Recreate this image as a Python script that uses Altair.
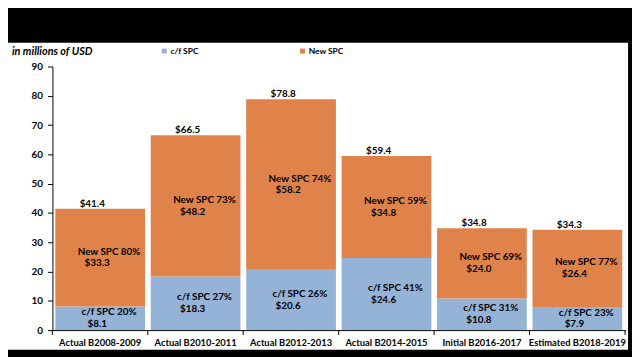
import altair as alt
import pandas as pd

categories = ["Actual B2008-2009", "Actual B2010-2011", "Actual B2012-2013",
              "Actual B2014-2015", "Initial B2016-2017", "Estimated B2018-2019"]
series = ["c/f SPC", "New SPC"]
cf_values = [8.1, 18.3, 20.6, 24.6, 10.8, 7.9]
new_values = [33.3, 48.2, 58.2, 34.8, 24.0, 26.4]
cf_pct = [20, 27, 26, 41, 31, 23]
new_pct = [80, 73, 74, 59, 69, 77]
colors = ["#95B3D7", "#E0834A"]
y_ticks = [0, 10, 20, 30, 40, 50, 60, 70, 80, 90]
unit_title = "in millions of USD"

rows = []
for i, c in enumerate(categories):
    rows.append({"category": c, "series": series[0], "value": cf_values[i], "pct": cf_pct[i], "order": 0})
    rows.append({"category": c, "series": series[1], "value": new_values[i], "pct": new_pct[i], "order": 1})
df = pd.DataFrame(rows)

FONT = "Lato"
W, H = 580, 267

xscale = alt.Scale(paddingInner=0.06, paddingOuter=0.03)
yscale = alt.Scale(domain=[0, 90], nice=False)

xaxis = alt.Axis(title=None, labelAngle=0, ticks=False, zindex=2, domainColor="black",
                 labelColor="black", labelFont=FONT, labelFontWeight="bold",
                 labelFontSize=9.5, labelPadding=8)
yaxis = alt.Axis(title=None, values=y_ticks, grid=False, zindex=2, domainColor="black",
                 tickColor="black", tickSize=5, labelColor="black", labelFont=FONT,
                 labelFontWeight="bold", labelFontSize=10, labelPadding=5)

# white panel behind the chart
panel = alt.Chart(pd.DataFrame({"p": [0]})).mark_rect(color="white").encode(
    x=alt.value(-45), x2=alt.value(583), y=alt.value(-24), y2=alt.value(287)
)

bars = alt.Chart(df).mark_bar().encode(
    x=alt.X("category:N", sort=categories, scale=xscale, axis=xaxis),
    y=alt.Y("value:Q", stack="zero", scale=yscale, axis=yaxis),
    color=alt.Color("series:N", scale=alt.Scale(domain=series, range=colors),
                    legend=alt.Legend(title=None, orient="none", legendX=109, legendY=-20,
                                      direction="horizontal", symbolType="square",
                                      symbolSize=25, symbolStrokeWidth=0,
                                      labelFontSize=8.5, labelFont=FONT,
                                      labelFontWeight="bold", labelColor="black",
                                      columnPadding=100, labelOffset=2)),
    order=alt.Order("order:Q", sort="ascending"),
)

seg = alt.Chart(df).transform_stack(
    stack="value", groupby=["category"], as_=["y0", "y1"],
    sort=[alt.SortField("order", order="ascending")]
).transform_calculate(
    mid="(datum.y0 + datum.y1) / 2",
    line1="datum.series + '  ' + datum.pct + '%'",
    line2="'$' + format(datum.value, '.1f')",
)

lab1 = seg.mark_text(font=FONT, fontWeight="bold", fontSize=10, color="black",
                     baseline="middle", align="center", dx=9, dy=-6).encode(
    x=alt.X("category:N", sort=categories, scale=xscale, axis=xaxis),
    y=alt.Y("mid:Q", scale=yscale, axis=yaxis),
    text="line1:N",
)
lab2 = seg.mark_text(font=FONT, fontWeight="bold", fontSize=10, color="black",
                     baseline="middle", align="center", dx=-3, dy=6).encode(
    x=alt.X("category:N", sort=categories, scale=xscale, axis=xaxis),
    y=alt.Y("mid:Q", scale=yscale, axis=yaxis),
    text="line2:N",
)

totals = alt.Chart(df).transform_aggregate(
    total="sum(value)", groupby=["category"]
).transform_calculate(
    tlabel="'$' + format(datum.total, '.1f')"
).mark_text(font=FONT, fontWeight="bold", fontSize=10, color="black",
            baseline="alphabetic", align="center", dx=-8, dy=-2).encode(
    x=alt.X("category:N", sort=categories, scale=xscale, axis=xaxis),
    y=alt.Y("total:Q", scale=yscale, axis=yaxis),
    text="tlabel:N",
)

cat_df = pd.DataFrame({"category": categories})
xticks = alt.Chart(cat_df).mark_rule(color="black", xOffset=-3).encode(
    x=alt.X("category:N", sort=categories, scale=xscale, bandPosition=0, axis=xaxis),
    y=alt.value(H), y2=alt.value(H + 5),
)
xtick_end = alt.Chart(pd.DataFrame({"e": [0]})).mark_rule(color="black").encode(
    x=alt.value(W), y=alt.value(H), y2=alt.value(H + 5)
)

title = alt.Chart(pd.DataFrame({"t": [unit_title]})).mark_text(
    font=FONT, fontWeight="bold", fontStyle="italic", fontSize=11, color="black",
    align="left", baseline="middle"
).encode(text="t:N", x=alt.value(-41), y=alt.value(-15))

chart = alt.layer(panel, bars, lab1, lab2, totals, xticks, xtick_end, title).properties(
    width=W, height=H, autosize="none",
    padding={"left": 45, "top": 57, "right": 7, "bottom": 25},
).configure(background="black").configure_view(stroke=None)

chart.save("out.html", embed_options={"renderer": "svg", "actions": False})
